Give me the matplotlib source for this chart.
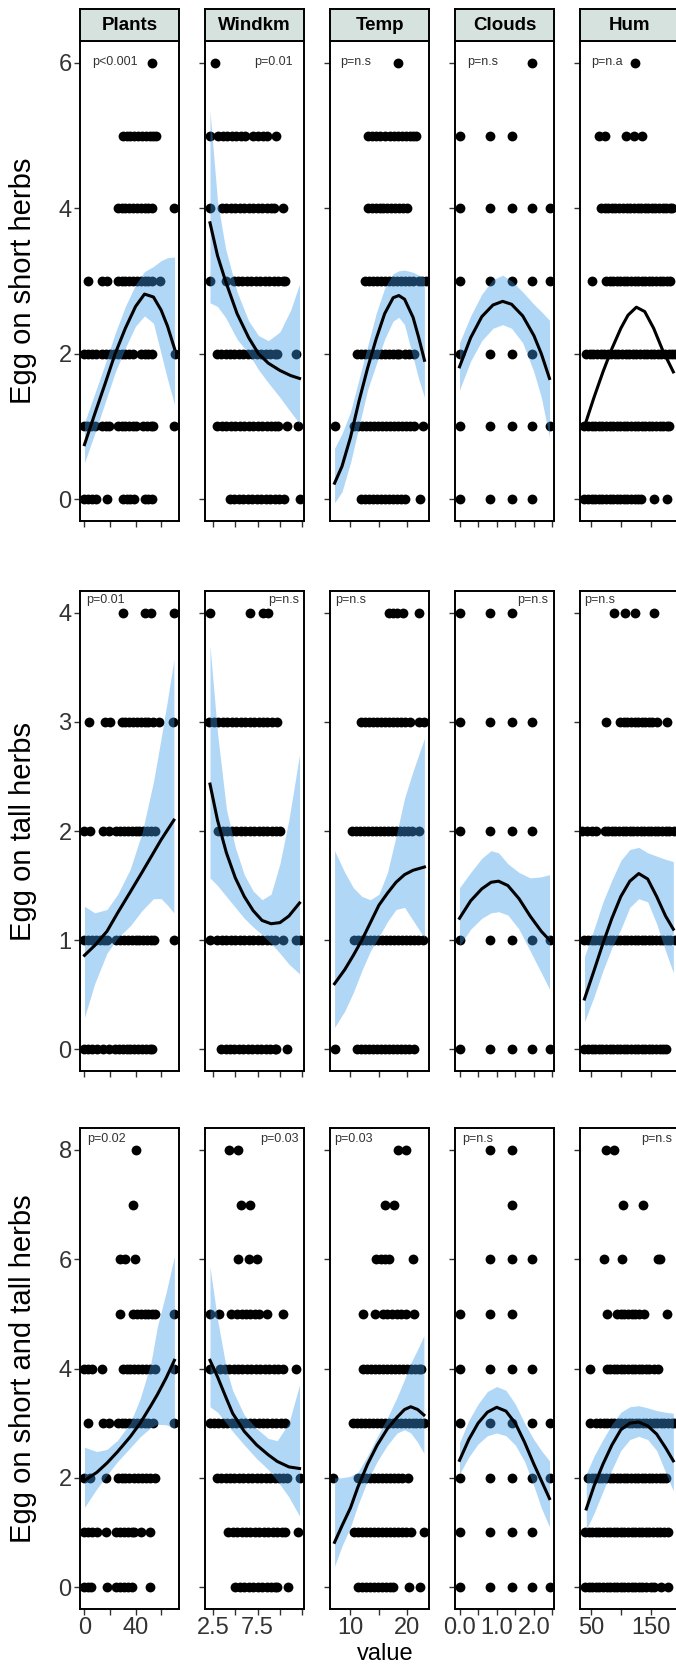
import matplotlib
matplotlib.use('Agg')
import matplotlib.pyplot as plt

plt.rcParams['font.family'] = ['Liberation Sans', 'DejaVu Sans']

# Facets and axis setup
columns = ['Plants', 'Windkm', 'Temp', 'Clouds', 'Hum']
row_titles = ['Egg on short herbs', 'Egg on tall herbs', 'Egg on short and tall herbs']
x_limits = [(-3.5, 74.0), (1.6, 12.7), (6.4, 23.8), (-0.121, 2.541), (31.5, 197.5)]
x_ticks = [[0, 20, 40, 60], [2.5, 5, 7.5, 10, 12.5], [10, 15, 20],
           [0, 0.5, 1.0, 1.5, 2.0, 2.5], [50, 100, 150]]
x_ticklabels = [['0', '', '40', ''], ['2.5', '', '7.5', '', ''], ['10', '', '20'],
                ['0.0', '', '1.0', '', '2.0', ''], ['50', '', '150']]
y_limits = [(-0.3, 6.3), (-0.2, 4.2), (-0.4, 8.4)]
y_ticks = [[0, 2, 4, 6], [0, 1, 2, 3, 4], [0, 2, 4, 6, 8]]

p_short = ['p<0.001', 'p=0.01', 'p=n.s', 'p=n.s', 'p=n.a']
p_tall = ['p=0.01', 'p=n.s', 'p=n.s', 'p=n.s', 'p=n.s']
p_both = ['p=0.02', 'p=0.03', 'p=0.03', 'p=n.s', 'p=n.s']

CL = [0, 0.83, 1.42, 1.96, 2.42]

# ---- Egg on short herbs: points (level -> x values) ----
s_plants = {
    6: [53],
    5: [30, 33, 36, 39, 42, 45, 48, 51, 54, 56],
    4: [26, 29, 32, 35, 38, 41, 44, 47, 50, 53, 70],
    3: [3, 14, 18, 26, 29, 32, 35, 38, 41, 44, 47, 50, 53, 59],
    2: [0, 3, 6, 9, 14, 17, 20, 23, 26, 29, 32, 35, 38, 44, 47, 50, 53, 70.5],
    1: [0, 2, 5, 8, 14, 17, 19, 26, 29, 32, 35, 38, 40, 46, 49, 52, 54, 70],
    0: [0, 3, 6, 9, 18, 30, 33, 36, 39, 47, 50, 53],
}
s_windkm = {
    6: [2.75],
    5: [2.15, 3.1, 3.6, 4.1, 4.6, 5.1, 5.6, 6.1, 7.0, 7.5, 8.1, 8.6, 9.6],
    4: [2.15, 3.5, 4.0, 4.5, 5.0, 5.5, 6.0, 6.5, 7.0, 7.5, 8.0, 8.5, 9.0, 9.3, 10.4],
    3: [2.15, 4.0, 4.8, 5.3, 5.8, 6.3, 6.8, 7.3, 7.8, 8.3, 8.8, 9.3, 9.8, 10.3, 10.6],
    2: [2.95, 3.4, 3.9, 4.4, 4.9, 5.4, 5.9, 6.4, 6.9, 7.4, 7.9, 8.4, 8.9, 9.4, 9.7, 11.8],
    1: [3.0, 3.5, 4.0, 4.5, 5.0, 5.5, 6.0, 6.5, 7.0, 7.5, 8.0, 8.5, 9.0, 9.5, 9.8, 10.8, 12.0],
    0: [4.4, 4.9, 5.4, 5.9, 6.4, 6.9, 7.4, 7.9, 8.4, 8.9, 9.4, 9.9, 10.5, 12.2],
}
s_temp = {
    6: [18.4],
    5: [13.0, 13.7, 14.4, 15.1, 16.0, 16.9, 17.6, 18.3, 19.0, 19.7, 20.4, 21.0, 21.6],
    4: [13.0, 13.7, 14.4, 15.1, 15.8, 16.5, 17.2, 17.9, 18.6, 19.3, 20.0],
    3: [12.6, 13.3, 14.0, 14.7, 15.4, 16.1, 16.8, 17.5, 18.2, 18.9, 19.6, 20.3, 21.0, 22.0, 22.6, 23.3],
    2: [11.1, 11.8, 12.5, 13.2, 13.9, 14.6, 15.3, 16.0, 16.7, 17.4, 18.1, 18.6, 19.6, 20.3, 21.2],
    1: [7.2, 10.6, 11.3, 12.0, 12.7, 13.4, 14.1, 14.8, 15.5, 16.2, 16.9, 17.6, 18.3, 19.0,
        19.7, 20.4, 21.2, 22.7],
    0: [11.9, 12.6, 13.3, 14.0, 14.7, 15.4, 16.1, 16.8, 17.5, 18.2, 18.9, 19.6, 22.2],
}
s_clouds = {
    6: [1.96], 5: [0, 0.83, 1.42], 4: CL, 3: CL,
    2: [0, 0.83, 1.42, 1.96], 1: CL, 0: [0, 0.83, 1.42, 1.96],
}
s_hum = {
    6: [124],
    5: [64, 74, 108, 122, 136],
    4: [67, 73, 79, 85, 91, 97, 103, 110, 116, 122, 128, 134, 140, 146, 152, 158, 164, 170,
        176, 182, 185],
    3: [51, 75, 81, 87, 93, 99, 105, 111, 117, 123, 129, 135, 141, 147, 153, 159, 165, 171,
        177, 183],
    2: [42, 48, 54, 60, 66, 72, 78, 84, 90, 96, 102, 108, 114, 120, 126, 132, 138, 144, 150,
        156, 162, 168, 174, 180, 186, 190],
    1: [39, 45, 51, 57, 63, 69, 75, 81, 87, 93, 99, 105, 111, 117, 123, 129, 135, 141, 147,
        153, 159, 165, 171, 177, 181],
    0: [39, 45, 51, 57, 63, 69, 75, 81, 87, 93, 99, 105, 111, 117, 123, 129, 133, 155, 178],
}

# ---- Egg on tall herbs ----
t_plants = {
    4: [30, 47, 52, 70],
    3: [3.4, 15.7, 19.6, 29, 32, 35, 38, 41, 44, 47, 50, 53.6, 58.3, 69.3],
    2: [0, 4, 14.5, 19, 25, 28, 31, 34, 37, 40, 43, 46, 49, 52, 55],
    1: [0, 3, 6, 9, 12, 15, 17.6, 25, 28, 31, 34, 37, 40, 43, 46, 49, 52, 54.4, 69.8],
    0: [0, 3, 6, 9.7, 14.3, 18.9, 24, 27, 30, 33, 36, 39, 42, 45, 48, 51, 52.8],
}
t_windkm = {
    4: [2.16, 6.6, 8.15, 8.7],
    3: [2.1, 2.6, 3.1, 3.6, 4.1, 4.6, 5.1, 5.6, 6.1, 6.6, 7.1, 7.6, 8.1, 8.6, 9.1, 9.65],
    2: [3.1, 3.6, 4.1, 4.6, 5.1, 5.6, 6.1, 6.6, 7.1, 7.6, 8.1, 8.6, 9.1, 9.6, 10.0],
    1: [2.16, 3.0, 3.5, 4.0, 4.5, 5.0, 5.5, 6.0, 6.5, 7.0, 7.5, 8.0, 8.5, 9.0, 9.5, 10.3,
        11.8, 12.2],
    0: [3.4, 3.9, 4.4, 4.9, 5.4, 5.9, 6.4, 6.9, 7.4, 7.9, 8.4, 8.9, 9.4, 9.6, 10.8],
}
t_temp = {
    4: [16.8, 17.5, 18.2, 19.2, 22.1],
    3: [11.9, 12.6, 13.3, 14.0, 14.7, 15.4, 16.1, 16.8, 17.5, 18.2, 18.9, 19.6, 20.5, 22.0, 23.0],
    2: [10.3, 11.0, 11.7, 12.4, 13.1, 13.8, 14.5, 15.2, 15.9, 16.6, 17.3, 18.0, 18.7, 19.4,
        20.1, 20.8, 22.1],
    1: [10.6, 11.3, 12.0, 12.7, 13.4, 14.1, 14.8, 15.5, 16.2, 16.9, 17.6, 18.3, 19.0, 19.7,
        20.4, 21.1, 21.8, 22.7],
    0: [7.2, 11.2, 11.9, 12.6, 13.3, 14.0, 14.7, 15.4, 16.1, 16.8, 17.5, 18.2, 18.9, 19.6,
        20.3, 21.2],
}
t_clouds = {
    4: [0, 0.83, 1.42], 3: [0, 0.83, 1.42, 1.96], 2: [0, 0.83, 1.42, 1.96], 1: CL, 0: CL,
}
t_hum = {
    4: [89, 107, 123, 155],
    3: [75, 99, 105, 111, 117, 123, 129, 135, 141, 147, 153, 160, 177],
    2: [35, 43, 51, 59, 73, 79, 85, 91, 97, 103, 109, 115, 121, 127, 133, 139, 145, 151, 157,
        163, 169, 175, 181, 189],
    1: [39, 45, 51, 57, 63, 69, 75, 81, 87, 93, 99, 105, 111, 117, 123, 129, 135, 141, 147,
        153, 159, 165, 171, 177, 183, 190],
    0: [39, 45, 51, 57, 63, 69, 75, 81, 87, 93, 99, 105, 111, 117, 123, 129, 135, 141, 147,
        153, 159, 165, 171, 175],
}

# ---- Egg on short and tall herbs ----
b_plants = {
    8: [40], 7: [38], 6: [27.5, 32, 39.7],
    5: [27.5, 38, 41, 44, 47, 50, 53, 55, 69.8],
    4: [0, 3, 6, 14, 30, 33, 36, 39, 42, 45, 48, 51, 55, 69.8],
    3: [3, 14.3, 18.9, 26, 29, 32, 35, 38, 41, 44, 47, 50, 54, 69.8],
    2: [0, 4, 17, 26, 29, 32, 35, 39, 42, 45, 48, 51, 55],
    1: [0, 3, 6, 10, 16.5, 25, 28, 31, 34, 37, 39, 44.5, 51.5],
    0: [0, 2.5, 5, 17.5, 25, 28, 31, 34, 37.4, 51],
}
b_windkm = {
    8: [4.3, 5.3], 7: [5.6, 6.7], 6: [5.3, 6.5, 7.4],
    5: [2.16, 3.2, 4.5, 5.2, 5.7, 6.2, 6.7, 7.2, 7.7, 8.5, 10.3],
    4: [2.16, 3.3, 3.8, 4.3, 4.8, 5.3, 5.8, 6.3, 6.8, 7.3, 7.8, 8.3, 8.8, 9.3, 9.8, 10.3, 11.75],
    3: [2.16, 2.6, 3.1, 3.6, 4.1, 4.6, 5.1, 5.6, 6.1, 6.6, 7.1, 7.6, 8.1, 8.6, 9.1, 9.6,
        10.1, 10.6],
    2: [2.9, 3.4, 3.9, 4.4, 4.9, 5.4, 5.9, 6.4, 6.9, 7.4, 7.9, 8.4, 8.9, 9.4, 9.9, 10.4,
        10.8, 12.3],
    1: [4.2, 4.7, 5.2, 5.7, 6.2, 6.7, 7.2, 7.7, 8.2, 8.7, 9.2, 9.7, 10.2, 10.6, 12.0],
    0: [5.0, 5.5, 6.0, 6.5, 7.0, 7.5, 8.0, 8.5, 9.0, 9.5, 9.7, 10.85],
}
b_temp = {
    8: [18.3, 19.8], 7: [16.1, 17.7], 6: [14.5, 15.3, 16.1, 16.8, 21.05],
    5: [12.2, 14.3, 15.8, 16.5, 17.3, 18.1, 18.9, 19.8, 21.1],
    4: [12.2, 12.9, 13.6, 14.3, 15.0, 15.7, 16.4, 17.1, 17.8, 18.5, 19.2, 19.9, 20.6, 21.3,
        22.0, 22.4],
    3: [10.4, 11.1, 11.8, 12.5, 13.2, 13.9, 14.6, 15.3, 16.0, 16.7, 17.4, 18.1, 18.8, 19.5,
        20.2, 20.9, 21.6, 22.3, 23.0],
    2: [7.0, 11.3, 12.0, 12.7, 13.4, 14.1, 14.8, 15.5, 16.2, 16.9, 17.6, 18.3, 19.0, 20.1],
    1: [10.7, 11.4, 12.1, 12.8, 13.5, 14.2, 14.9, 15.6, 16.3, 17.0, 17.7, 18.4, 19.1, 19.8,
        20.6, 23.0],
    0: [11.3, 12.0, 12.7, 13.4, 14.1, 14.8, 15.5, 16.2, 16.9, 17.4, 20.2, 22.2],
}
b_clouds = {
    8: [0.83, 1.42], 7: [1.42], 6: [0.83, 1.42, 1.96], 5: [0, 0.83, 1.42],
    4: [0, 0.83, 1.42, 1.96], 3: CL, 2: CL, 1: [0, 0.83, 1.42, 1.96], 0: CL,
}
b_hum = {
    8: [74.6, 89.3], 7: [104, 137], 6: [71.8, 102, 163, 166],
    5: [77, 94, 100, 106, 112, 118, 124, 130, 138.5, 177],
    4: [48.4, 76, 82, 88, 94, 100, 106, 112, 118, 124, 130, 136, 142, 148, 155, 163],
    3: [48.4, 59, 65, 71, 77, 83, 89, 95, 101, 107, 113, 119, 125, 131, 137, 143, 149, 155,
        161, 167, 173, 179, 185, 189],
    2: [45, 51, 57, 63, 69, 75, 81, 87, 93, 99, 105, 111, 117, 123, 129, 135, 141, 147, 153,
        159, 165, 171, 176],
    1: [40, 46, 52, 58, 64, 70, 76, 82, 88, 94, 100, 106, 112, 118, 124, 130, 136, 142, 148,
        154, 160, 166, 172, 179.5],
    0: [40, 46, 52, 58, 64, 70, 76, 82, 88, 94, 100, 106, 112, 118, 124, 130, 136, 142, 150,
        156, 168, 179],
}

# ---- smoother curves: fit, lower and upper band ----
fs_plants = dict(x=[0, 8, 16, 24, 32, 40, 47, 54, 60, 65, 70.5],
                 fit=[0.75, 1.17, 1.58, 2.0, 2.35, 2.65, 2.82, 2.78, 2.6, 2.38, 2.07],
                 lo=[0.5, 0.9, 1.32, 1.74, 2.08, 2.38, 2.52, 2.42, 2.0, 1.65, 1.3],
                 hi=[1.05, 1.45, 1.85, 2.28, 2.65, 2.95, 3.13, 3.2, 3.28, 3.32, 3.33])
fs_windkm = dict(x=[2.16, 3.0, 3.9, 5.2, 6.5, 7.6, 8.7, 10.0, 11.2, 12.2],
                 fit=[3.8, 3.35, 3.0, 2.55, 2.22, 2.0, 1.87, 1.77, 1.7, 1.66],
                 lo=[2.7, 2.65, 2.5, 2.2, 2.0, 1.78, 1.6, 1.4, 1.2, 1.04],
                 hi=[5.34, 4.1, 3.45, 2.85, 2.45, 2.25, 2.18, 2.3, 2.6, 2.96])
fs_temp = dict(x=[7.2, 8.5, 10, 11.5, 13, 14.5, 16, 17.5, 18.5, 19.5, 21, 22, 23],
               fit=[0.22, 0.45, 0.85, 1.35, 1.8, 2.2, 2.55, 2.77, 2.8, 2.75, 2.5, 2.22, 1.91],
               lo=[-0.05, 0.1, 0.5, 1.0, 1.5, 1.85, 2.2, 2.45, 2.5, 2.4, 1.95, 1.65, 1.4],
               hi=[0.7, 0.9, 1.2, 1.65, 2.1, 2.55, 2.9, 3.1, 3.14, 3.15, 3.12, 3.08, 3.05])
fs_clouds = dict(x=[0, 0.3, 0.6, 0.9, 1.16, 1.4, 1.7, 2.0, 2.2, 2.42],
                 fit=[1.82, 2.22, 2.51, 2.67, 2.72, 2.68, 2.52, 2.25, 2.0, 1.66],
                 lo=[1.5, 1.9, 2.18, 2.35, 2.4, 2.35, 2.15, 1.75, 1.4, 0.85],
                 hi=[2.15, 2.52, 2.82, 3.02, 3.08, 3.0, 2.85, 2.68, 2.58, 2.46])
fs_hum = dict(x=[39, 55, 70, 85, 100, 112, 126, 140, 155, 170, 188],
              fit=[1.0, 1.4, 1.75, 2.07, 2.35, 2.53, 2.64, 2.58, 2.35, 2.05, 1.75],
              lo=None, hi=None)

ft_plants = dict(x=[0, 8, 17.6, 26, 35.8, 45, 54, 60, 65, 70],
                 fit=[0.86, 0.95, 1.08, 1.25, 1.44, 1.62, 1.8, 1.92, 2.01, 2.1],
                 lo=[0.29, 0.6, 0.88, 1.02, 1.13, 1.27, 1.38, 1.38, 1.32, 1.25],
                 hi=[1.31, 1.25, 1.28, 1.42, 1.65, 1.98, 2.45, 2.85, 3.2, 3.57])
ft_windkm = dict(x=[2.16, 3, 4, 5, 6, 7, 8, 9, 10, 11, 12.2],
                 fit=[2.43, 2.1, 1.8, 1.57, 1.4, 1.27, 1.18, 1.15, 1.16, 1.22, 1.34],
                 lo=[1.57, 1.5, 1.4, 1.3, 1.2, 1.12, 1.05, 0.97, 0.88, 0.78, 0.69],
                 hi=[3.7, 2.9, 2.2, 1.85, 1.6, 1.45, 1.37, 1.42, 1.7, 2.1, 2.7])
ft_temp = dict(x=[7.2, 9, 10.5, 12, 13.5, 15, 16.5, 18, 19.5, 21, 23],
               fit=[0.6, 0.73, 0.86, 1.0, 1.16, 1.32, 1.43, 1.53, 1.6, 1.64, 1.67],
               lo=[0.2, 0.35, 0.52, 0.72, 0.9, 1.03, 1.17, 1.28, 1.3, 1.18, 1.02],
               hi=[1.82, 1.62, 1.48, 1.4, 1.37, 1.42, 1.62, 1.95, 2.3, 2.55, 2.85])
ft_clouds = dict(x=[0, 0.3, 0.6, 0.85, 1.05, 1.3, 1.6, 1.9, 2.2, 2.42],
                 fit=[1.2, 1.36, 1.47, 1.53, 1.54, 1.5, 1.38, 1.22, 1.08, 1.0],
                 lo=[0.95, 1.1, 1.2, 1.25, 1.26, 1.23, 1.1, 0.9, 0.7, 0.55],
                 hi=[1.48, 1.62, 1.75, 1.82, 1.8, 1.7, 1.62, 1.57, 1.58, 1.6])
ft_hum = dict(x=[39, 55, 70, 85, 100, 115, 130, 145, 160, 175, 188],
              fit=[0.46, 0.72, 0.97, 1.2, 1.4, 1.54, 1.61, 1.56, 1.4, 1.22, 1.1],
              lo=[0.25, 0.48, 0.72, 0.93, 1.1, 1.3, 1.38, 1.35, 1.15, 0.9, 0.7],
              hi=[0.85, 1.1, 1.35, 1.55, 1.73, 1.83, 1.85, 1.8, 1.77, 1.74, 1.72])

fb_plants = dict(x=[0, 9.7, 17.6, 26, 35.8, 43.6, 52, 57, 64, 70.4],
                 fit=[1.95, 2.1, 2.27, 2.48, 2.75, 3.0, 3.32, 3.52, 3.83, 4.15],
                 lo=[1.46, 1.8, 2.05, 2.3, 2.55, 2.75, 2.92, 2.98, 2.97, 2.9],
                 hi=[2.56, 2.48, 2.52, 2.69, 3.0, 3.45, 4.1, 4.76, 5.4, 6.05])
fb_windkm = dict(x=[2.16, 3.0, 4.0, 4.7, 6.0, 7.4, 8.7, 9.7, 11.0, 12.2],
                 fit=[4.15, 3.85, 3.45, 3.18, 2.85, 2.6, 2.42, 2.3, 2.2, 2.17],
                 lo=[3.3, 3.2, 3.0, 2.85, 2.6, 2.35, 2.15, 1.95, 1.65, 1.3],
                 hi=[5.86, 4.9, 4.0, 3.6, 3.15, 2.9, 2.72, 2.68, 3.0, 3.7])
fb_temp = dict(x=[7.2, 8.5, 10, 11.3, 13, 14.7, 16.5, 18.2, 19.5, 20.6, 21.8, 22.9],
               fit=[0.82, 1.12, 1.45, 1.83, 2.25, 2.6, 2.9, 3.11, 3.25, 3.3, 3.25, 3.15],
               lo=[0.38, 0.75, 1.1, 1.5, 1.95, 2.3, 2.6, 2.82, 2.88, 2.82, 2.65, 2.45],
               hi=[2.0, 2.0, 2.03, 2.1, 2.4, 2.75, 3.1, 3.48, 3.8, 4.1, 4.35, 4.6])
fb_clouds = dict(x=[0, 0.25, 0.5, 0.75, 1.0, 1.25, 1.5, 1.75, 2.0, 2.2, 2.42],
                 fit=[2.32, 2.7, 3.0, 3.2, 3.29, 3.22, 3.0, 2.65, 2.25, 1.95, 1.62],
                 lo=[2.07, 2.38, 2.62, 2.77, 2.82, 2.77, 2.6, 2.3, 1.85, 1.45, 1.1],
                 hi=[2.64, 3.05, 3.35, 3.58, 3.67, 3.6, 3.35, 3.0, 2.7, 2.5, 2.31])
fb_hum = dict(x=[42, 55, 70, 85, 100, 115, 130, 145, 160, 175, 188],
              fit=[1.43, 1.85, 2.25, 2.6, 2.88, 3.0, 3.02, 2.95, 2.8, 2.55, 2.31],
              lo=[1.05, 1.35, 1.75, 2.15, 2.5, 2.7, 2.76, 2.7, 2.5, 2.1, 1.76],
              hi=[2.07, 2.4, 2.7, 2.98, 3.2, 3.3, 3.32, 3.28, 3.23, 3.2, 3.18])

rows = [
    ([s_plants, s_windkm, s_temp, s_clouds, s_hum],
     [fs_plants, fs_windkm, fs_temp, fs_clouds, fs_hum], p_short),
    ([t_plants, t_windkm, t_temp, t_clouds, t_hum],
     [ft_plants, ft_windkm, ft_temp, ft_clouds, ft_hum], p_tall),
    ([b_plants, b_windkm, b_temp, b_clouds, b_hum],
     [fb_plants, fb_windkm, fb_temp, fb_clouds, fb_hum], p_both),
]

# ---- layout (pixels of the 676 x 1676 canvas) ----
W, H = 676, 1676
PANEL_LEFTS = [80, 205, 330, 455, 580]
PANEL_W = 99
ROW_SPANS = [(41, 521), (591, 1071), (1128, 1609)]
STRIP_TOP = 9
# p-label placement per row: (x fraction, ha) per panel, and y fraction
P_POS = [
    ([(0.12, 'left'), (0.89, 'right'), (0.10, 'left'), (0.12, 'left'), (0.11, 'left')], 0.968),
    ([(0.06, 'left'), (0.95, 'right'), (0.05, 'left'), (0.94, 'right'), (0.04, 'left')], 0.993),
    ([(0.07, 'left'), (0.95, 'right'), (0.04, 'left'), (0.07, 'left'), (0.93, 'right')], 0.99),
]

RIBBON = '#3d9be9'
TICK_COLOR = '#333333'


def rect(left, top, width, height):
    return [left / W, 1 - (top + height) / H, width / W, height / H]


fig = plt.figure(figsize=(W / 100, H / 100), dpi=100)

for r, (pts_row, fits_row, pvals) in enumerate(rows):
    top, bottom = ROW_SPANS[r]
    for c in range(5):
        ax = fig.add_axes(rect(PANEL_LEFTS[c], top, PANEL_W, bottom - top))
        pts = pts_row[c]
        xs = [x for lvl in pts for x in pts[lvl]]
        ys = [lvl for lvl in pts for _ in pts[lvl]]
        ax.scatter(xs, ys, s=50, c='black', linewidths=0, zorder=2)

        fit = fits_row[c]
        if fit['lo'] is not None:
            ax.fill_between(fit['x'], fit['lo'], fit['hi'], color=RIBBON, alpha=0.4,
                            linewidth=0, zorder=3)
        ax.plot(fit['x'], fit['fit'], color='black', lw=2.2, zorder=4)

        ax.set_xlim(*x_limits[c])
        ax.set_ylim(*y_limits[r])
        ax.set_xticks(x_ticks[c])
        ax.set_xticklabels(x_ticklabels[c])
        ax.set_yticks(y_ticks[r])
        ax.tick_params(direction='out', length=4.5, width=1.0, color=TICK_COLOR,
                       labelsize=17, labelcolor=TICK_COLOR, pad=1.5)
        if r < 2:
            ax.tick_params(labelbottom=False)
        if c > 0:
            ax.tick_params(labelleft=False)
        for sp in ax.spines.values():
            sp.set_linewidth(1.4)
            sp.set_color('black')

        (px, ha), py = P_POS[r][0][c], P_POS[r][1]
        ax.text(px, py, pvals[c], transform=ax.transAxes, ha=ha, va='top',
                fontsize=9, color='#333333')

        if r == 0:
            sax = fig.add_axes(rect(PANEL_LEFTS[c], STRIP_TOP, PANEL_W, top - STRIP_TOP))
            sax.set_facecolor('#d6e2de')
            sax.set_xticks([])
            sax.set_yticks([])
            for sp in sax.spines.values():
                sp.set_linewidth(1.4)
            sax.text(0.5, 0.5, columns[c], transform=sax.transAxes, ha='center',
                     va='center', fontsize=13.5, fontweight='bold')

    fig.text(23 / W, 1 - (top + bottom) / 2 / H, row_titles[r], rotation=90,
             ha='center', va='center', fontsize=21)

fig.text(385 / W, 1 - 1654 / H, 'value', ha='center', va='center', fontsize=17)

fig.savefig('out.png', dpi=100)
